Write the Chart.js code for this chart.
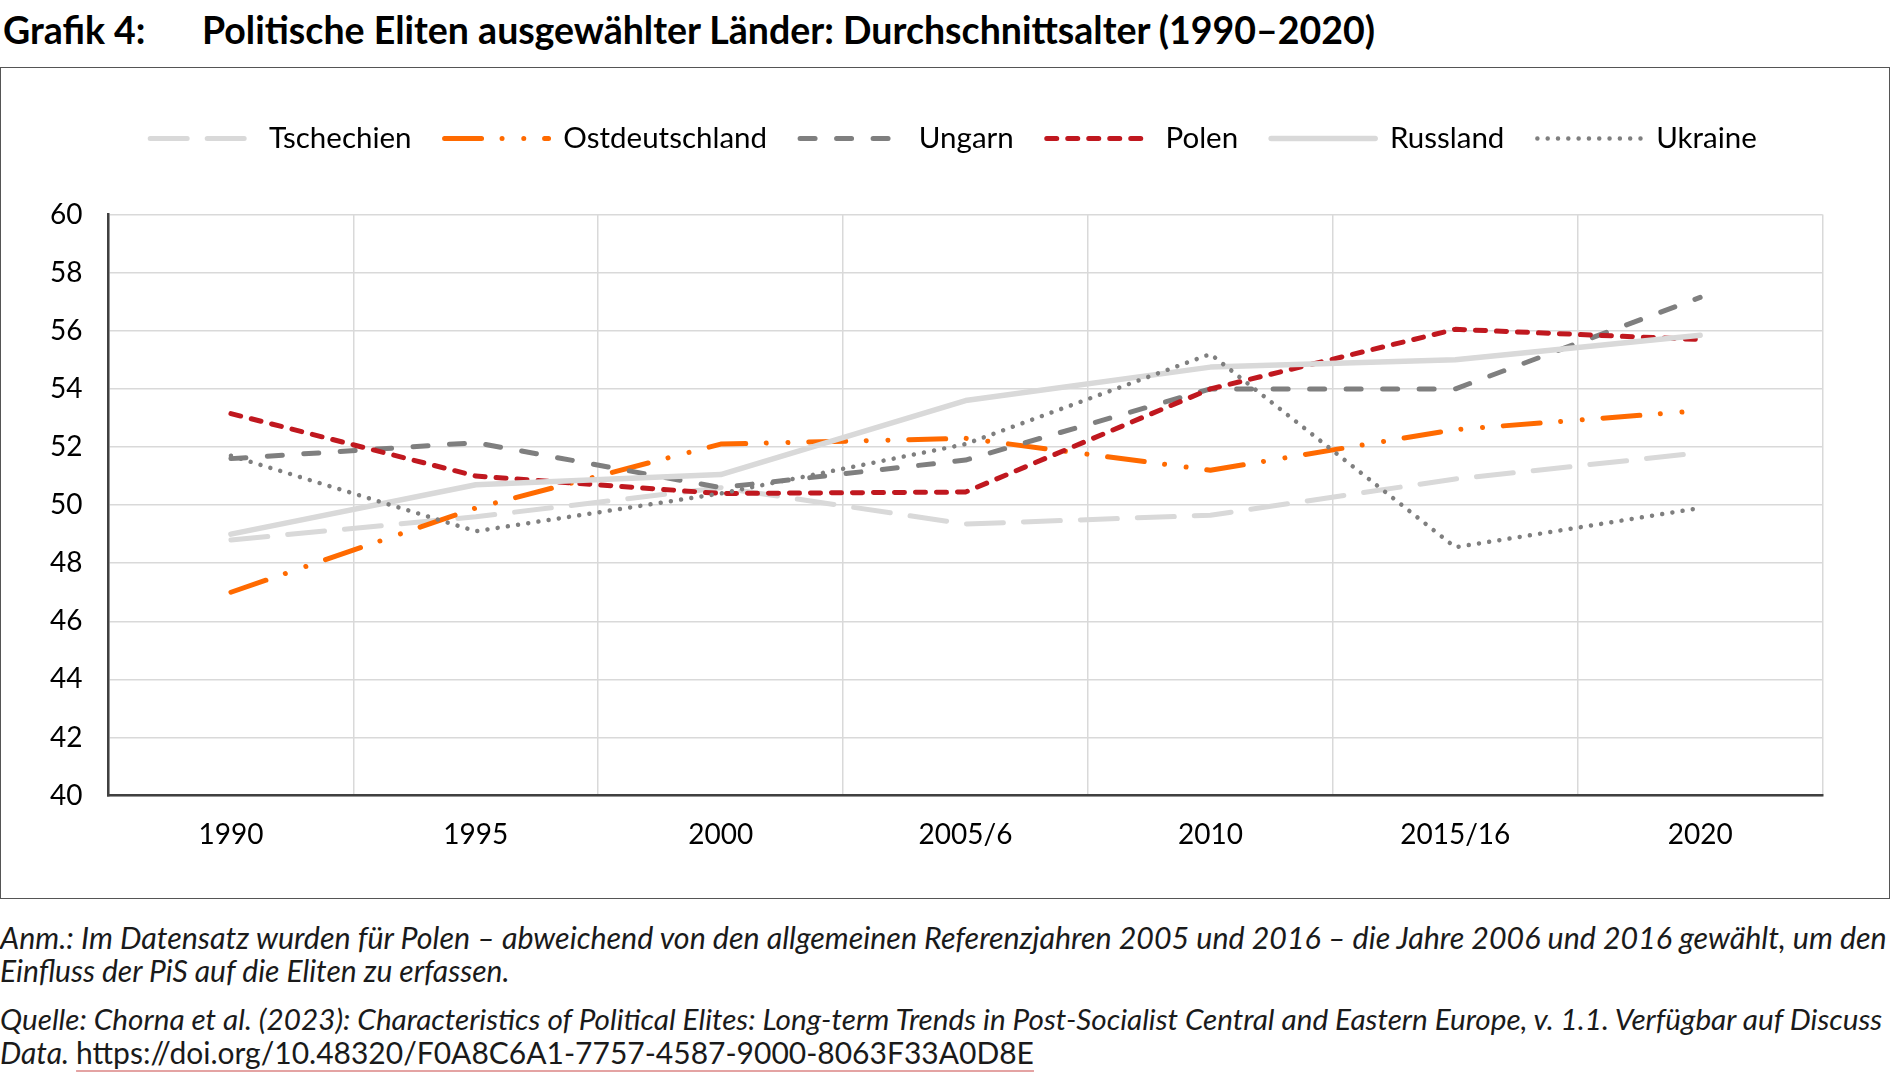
<!DOCTYPE html>
<html lang="de">
<head>
<meta charset="utf-8">
<title>Grafik 4</title>
<script src="https://cdn.jsdelivr.net/npm/chart.js@4.4.1/dist/chart.umd.min.js"></script>
<style>
  body { margin: 0; width: 1890px; height: 1082px; overflow: hidden; background: #fff; font-family: Lato, sans-serif; color: #000; position: relative; }
  .title { position: absolute; top: 10px; font-size: 37.5px; font-weight: bold; line-height: 40px; white-space: nowrap; }
  #frame { position: absolute; left: 0; top: 67px; width: 1888px; height: 830px; border: 1px solid #555; }
  .note { position: absolute; left: 0; width: 1890px; height: 44px; font-size: 30px; font-style: italic; line-height: 34px; white-space: nowrap; overflow: hidden; color: #1a1a1a; }
  .note a { font-style: normal; color: #1a1a1a; text-decoration: underline; text-decoration-color: #e4a3a3; text-underline-offset: 6px; text-decoration-thickness: 2px; }
</style>
</head>
<body>
<div class="title" style="left:3px">Grafik 4:</div>
<div class="title" style="left:202px">Politische Eliten ausgewählter Länder: Durchschnittsalter (1990–2020)</div>

<div id="frame"><canvas id="elitesChart"></canvas></div>

<div class="note" style="top:920px; font-size:30.4px">Anm.: Im Datensatz wurden für Polen – abweichend von den allgemeinen Referenzjahren 2005 und 2016 – die Jahre 2006 und 2016 gewählt, um den</div>
<div class="note" style="top:953px">Einfluss der PiS auf die Eliten zu erfassen.</div>
<div class="note" style="top:1002px; font-size:29.7px">Quelle: Chorna et al. (2023): Characteristics of Political Elites: Long-term Trends in Post-Socialist Central and Eastern Europe, v. 1.1. Verfügbar auf Discuss</div>
<div class="note" style="top:1035px">Data. <a href="#">https://doi.org/10.48320/F0A8C6A1-7757-4587-9000-8063F33A0D8E</a></div>

<script>
// Referenzjahre (x-Achse)
const years = ['1990', '1995', '2000', '2005/6', '2010', '2015/16', '2020']

// Durchschnittsalter je Land
const tschechien = [48.8, 49.6, 50.6, 49.35, 49.65, 50.9, 51.8]
const ostdeutschland = [47.0, 49.9, 52.1, 52.3, 51.2, 52.6, 53.25]
const ungarn = [51.6, 52.15, 50.6, 51.55, 54.0, 54.0, 57.15]
const polen = [53.15, 51.0, 50.4, 50.45, 54.0, 56.05, 55.7]
const russland = [49.0, 50.7, 51.05, 53.6, 54.75, 55.0, 55.85]
const ukraine = [51.7, 49.1, 50.4, 52.1, 55.2, 48.55, 49.9]

// y-Achse
const yMin = 40
const yMax = 60
const yStep = 2

Chart.defaults.font.family = 'Lato'
Chart.defaults.color = '#000'

function line(label, data, color, width, dash, order) {
    return {
        label: label,
        data: data,
        borderColor: color,
        backgroundColor: color,
        borderWidth: width,
        borderDash: dash,
        borderCapStyle: 'round',
        borderJoinStyle: 'round',
        pointRadius: 0,
        tension: 0,
        fill: false,
        order: order
    }
}

// Abstand zwischen Legende und Diagrammfläche
const legendGap = {
    id: 'legendGap',
    beforeInit(chart) {
        const origFit = chart.legend.fit
        chart.legend.fit = function () {
            origFit.bind(chart.legend)()
            this.height += 51.25
        }
    }
}

let ctx = document.getElementById('elitesChart')
var chart = new Chart(ctx, {
    type: 'line',
    data: {
        labels: years,
        datasets: [
            line('Tschechien', tschechien, '#d9d9d9', 5, [37, 20], 6),
            line('Ostdeutschland', ostdeutschland, '#ff6a00', 5, [37, 20.5, 0.01, 21.7, 0.01, 20.8], 5),
            line('Ungarn', ungarn, '#7f7f7f', 5, [15, 21.5], 4),
            line('Polen', polen, '#c0181f', 5, [10, 11], 3),
            line('Russland', russland, '#d9d9d9', 5.5, [], 2),
            line('Ukraine', ukraine, '#7f7f7f', 4.5, [0.01, 10.3], 1)
        ]
    },
    options: {
        responsive: true,
        maintainAspectRatio: false,
        animation: false,
        devicePixelRatio: 1,
        layout: { padding: { top: 22.85, left: 17, right: 0, bottom: 0 } },
        plugins: {
            tooltip: { enabled: false },
            legend: {
                position: 'top',
                reverse: true,
                labels: {
                    usePointStyle: true,
                    pointStyle: 'line',
                    pointStyleWidth: 104,
                    padding: 33,
                    color: '#000',
                    font: { size: 29.5 },
                    generateLabels: function (chart) {
                        let items = Chart.defaults.plugins.legend.labels.generateLabels(chart)
                        items.forEach(item => {
                            let ds = chart.data.datasets[item.datasetIndex]
                            item.lineDash = ds.borderDash
                            item.lineWidth = ds.borderWidth
                            item.lineCap = 'round'
                            item.strokeStyle = ds.borderColor
                        })
                        return items
                    }
                }
            }
        },
        scales: {
            x: {
                offset: true,
                grid: { offset: true, color: '#d9d9d9', lineWidth: 1.5, drawTicks: false },
                border: { color: '#404040', width: 2.5 },
                ticks: { padding: 22.5, font: { size: 28 }, color: '#000' },
                afterFit: function (s) { s.height = 102.4 }
            },
            y: {
                min: yMin,
                max: yMax,
                grid: { color: '#d9d9d9', lineWidth: 1.5, drawTicks: false },
                border: { color: '#404040', width: 2.5 },
                ticks: { stepSize: yStep, padding: 26, font: { size: 28 }, color: '#000' },
                afterFit: function (s) { s.width = 90.5 }
            },
            yRight: {
                position: 'right',
                grid: { display: false },
                border: { display: false },
                ticks: { display: false },
                afterFit: function (s) { s.width = 66.4 }
            }
        }
    },
    plugins: [legendGap]
})
</script>
</body>
</html>
